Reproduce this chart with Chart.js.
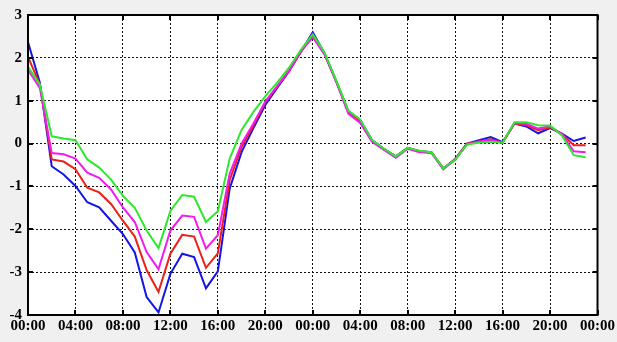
<!DOCTYPE html>
<html>
<head>
<meta charset="utf-8">
<script src="https://cdn.jsdelivr.net/npm/chart.js@4/dist/chart.umd.min.js"></script>
<style>
  html, body { margin: 0; padding: 0; background: #f0f0f0; }
  #wrap { width: 617px; height: 342px; }
</style>
</head>
<body>
<div id="wrap"><canvas id="chart" width="617" height="342"></canvas></div>
<script>
'use strict';

// hours since the start (two days, hourly)
const hours = [
  0, 1, 2, 3, 4, 5, 6, 7, 8, 9, 10, 11, 12, 13, 14, 15,
  16, 17, 18, 19, 20, 21, 22, 23, 24, 25, 26, 27, 28, 29, 30, 31,
  32, 33, 34, 35, 36, 37, 38, 39, 40, 41, 42, 43, 44, 45, 46, 47
];

const blueSeries = [
  2.37, 1.42, -0.53, -0.72, -0.99, -1.37, -1.49, -1.80, -2.11, -2.54, -3.58, -3.94, -3.04, -2.57, -2.65, -3.38,
  -2.98, -1.05, -0.20, 0.36, 0.90, 1.30, 1.68, 2.14, 2.60, 2.10, 1.44, 0.75, 0.55, 0.08, -0.12, -0.30,
  -0.10, -0.18, -0.20, -0.58, -0.36, 0.00, 0.08, 0.15, 0.03, 0.47, 0.40, 0.24, 0.36, 0.23, 0.06, 0.14
];

const redSeries = [
  2.02, 1.38, -0.37, -0.42, -0.60, -1.03, -1.14, -1.41, -1.80, -2.17, -2.95, -3.46, -2.57, -2.13, -2.17, -2.90,
  -2.56, -0.85, -0.08, 0.42, 0.96, 1.33, 1.70, 2.14, 2.52, 2.08, 1.44, 0.74, 0.53, 0.06, -0.13, -0.31,
  -0.10, -0.18, -0.20, -0.58, -0.37, 0.00, 0.05, 0.10, 0.02, 0.47, 0.43, 0.31, 0.38, 0.23, -0.04, -0.04
];

const magentaSeries = [
  1.72, 1.30, -0.22, -0.25, -0.35, -0.68, -0.80, -1.07, -1.49, -1.83, -2.53, -2.93, -2.03, -1.68, -1.71, -2.45,
  -2.14, -0.70, 0.00, 0.47, 0.98, 1.34, 1.69, 2.15, 2.48, 2.08, 1.42, 0.70, 0.48, 0.04, -0.15, -0.33,
  -0.12, -0.20, -0.22, -0.60, -0.38, -0.02, 0.05, 0.08, 0.02, 0.48, 0.46, 0.35, 0.40, 0.22, -0.18, -0.20
];

const greenSeries = [
  1.79, 1.38, 0.17, 0.12, 0.08, -0.37, -0.56, -0.84, -1.22, -1.50, -2.03, -2.44, -1.57, -1.20, -1.24, -1.83,
  -1.58, -0.35, 0.32, 0.74, 1.10, 1.42, 1.77, 2.19, 2.55, 2.12, 1.46, 0.77, 0.56, 0.08, -0.12, -0.30,
  -0.10, -0.17, -0.20, -0.58, -0.38, -0.02, 0.02, 0.04, 0.02, 0.50, 0.50, 0.43, 0.42, 0.19, -0.27, -0.32
];

// x axis: 48 hours, a label every 4 hours
const xTicks = [0, 4, 8, 12, 16, 20, 24, 28, 32, 36, 40, 44, 48];
const yTicks = [-4, -3, -2, -1, 0, 1, 2, 3];

const labelFont = { family: '"Liberation Serif", "DejaVu Serif", serif', size: 15, weight: 'bold' };

function toPoints(values) {
  return values.map((v, i) => ({ x: hours[i], y: v }));
}

// lower order is drawn on top
function makeLine(values, color, order) {
  return {
    data: toPoints(values),
    borderColor: color,
    backgroundColor: color,
    borderWidth: 2,
    pointRadius: 0,
    tension: 0,
    fill: false,
    order
  };
}

// white plot area, black frame and inward tick marks
const framePlugin = {
  id: 'frame',
  beforeDraw(chart) {
    const { ctx, chartArea: a } = chart;
    ctx.save();
    ctx.fillStyle = '#ffffff';
    ctx.fillRect(a.left, a.top, a.right - a.left, a.bottom - a.top);
    ctx.restore();
  },
  afterDraw(chart) {
    const { ctx, chartArea: a, scales } = chart;
    const len = 5;
    ctx.save();
    ctx.strokeStyle = '#000';
    ctx.lineWidth = 2;
    ctx.beginPath();
    for (const t of xTicks) {
      const px = Math.round(scales.x.getPixelForValue(t));
      ctx.moveTo(px, a.bottom);
      ctx.lineTo(px, a.bottom - len);
      ctx.moveTo(px, a.top);
      ctx.lineTo(px, a.top + len);
    }
    for (const t of yTicks) {
      const py = Math.round(scales.y.getPixelForValue(t));
      ctx.moveTo(a.left, py);
      ctx.lineTo(a.left + len, py);
      ctx.moveTo(a.right, py);
      ctx.lineTo(a.right - len, py);
    }
    ctx.stroke();
    ctx.strokeRect(a.left, a.top, a.right - a.left, a.bottom - a.top);
    ctx.restore();
  }
};

const ctx = document.getElementById('chart').getContext('2d');

new Chart(ctx, {
  type: 'line',
  data: {
    datasets: [
      makeLine(blueSeries, '#1414e6', 4),
      makeLine(redSeries, '#ec2018', 3),
      makeLine(magentaSeries, '#f01cf0', 2),
      makeLine(greenSeries, '#2ee82e', 1)
    ]
  },
  options: {
    responsive: false,
    animation: false,
    layout: { padding: { top: 13, right: 19, left: 0, bottom: 0 } },
    plugins: { legend: { display: false }, tooltip: { enabled: false } },
    scales: {
      x: {
        type: 'linear',
        min: 0,
        max: 48,
        afterBuildTicks: s => { s.ticks = xTicks.map(v => ({ value: v })); },
        afterFit: s => { s.height = 27; },
        ticks: {
          color: '#000',
          font: labelFont,
          padding: 2,
          maxRotation: 0,
          autoSkip: false,
          callback: v => String(v % 24).padStart(2, '0') + ':00'
        },
        grid: { color: '#111', lineWidth: 1, drawTicks: false },
        border: { display: false, dash: [2, 2] }
      },
      y: {
        min: -4,
        max: 3,
        afterBuildTicks: s => { s.ticks = yTicks.map(v => ({ value: v })); },
        afterFit: s => { s.width = 28; },
        ticks: {
          color: '#000',
          font: labelFont,
          padding: 6
        },
        grid: { color: '#111', lineWidth: 1, drawTicks: false },
        border: { display: false, dash: [2, 2] }
      }
    }
  },
  plugins: [framePlugin]
});
</script>
</body>
</html>
